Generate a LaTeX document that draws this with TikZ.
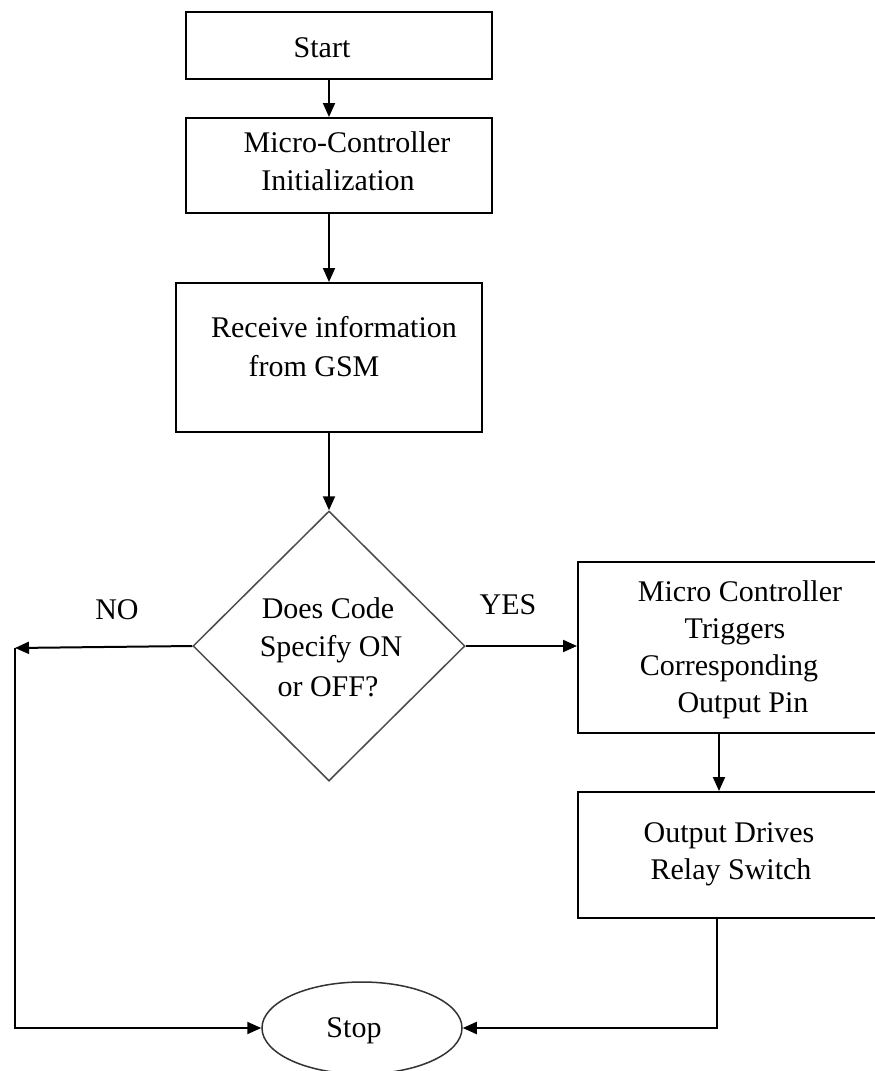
\documentclass[tikz,border=0pt]{standalone}
\usepackage{fontspec}
\setmainfont{Liberation Serif}
\usetikzlibrary{shapes.geometric,arrows.meta}
\begin{document}
\begin{tikzpicture}[x=1pt,y=-1pt,
  box/.style={draw=black,line width=2pt,rectangle,inner sep=0pt},
  txt/.style={anchor=base,inner sep=0pt,font=\fontsize{30}{36}\selectfont},
  arr/.style={line width=2pt,-{Triangle[length=14pt,width=12pt]}},
  ln/.style={line width=2pt}]
\useasboundingbox (0,0) rectangle (875,1071);
\clip (0,0) rectangle (875,1071);
\fill[white] (0,0) rectangle (875,1071);
% boxes
\node[box,minimum width=306pt,minimum height=67pt] (start) at (339,45.5) {};
\node[box,minimum width=306pt,minimum height=95pt] (init) at (339,165.5) {};
\node[box,minimum width=306pt,minimum height=149pt] (recv) at (329,357.5) {};
\node[draw=black!70,line width=1.5pt,diamond,minimum width=272pt,minimum height=270pt,inner sep=0pt] (dec) at (329,646) {};
\node[box,minimum width=302pt,minimum height=171pt] (trig) at (729,647.5) {};
\node[box,minimum width=302pt,minimum height=126pt] (drive) at (729,855) {};
\node[draw=black!80,line width=1.5pt,ellipse,minimum width=200pt,minimum height=92pt,inner sep=0pt] (stop) at (362,1028) {};
\coordinate (nocorner) at (15,648);
% texts
\node[txt] (tstart) at (322,57) {Start};
\node[txt] (tinit1) at (347,152) {Micro-Controller};
\node[txt] (tinit2) at (338,190) {Initialization};
\node[txt] (trecv1) at (334,337) {Receive information};
\node[txt] (trecv2) at (314,376) {from GSM};
\node[txt] (tdec1) at (328,618) {Does Code};
\node[txt] (tdec2) at (331,656) {Specify ON};
\node[txt] (tdec3) at (328,696) {or OFF?};
\node[txt] (ttrig1) at (740,601) {Micro Controller};
\node[txt] (ttrig2) at (735,638) {Triggers};
\node[txt] (ttrig3) at (729,675) {Corresponding};
\node[txt] (ttrig4) at (743,712) {Output Pin};
\node[txt] (tdrive1) at (729,842) {Output Drives};
\node[txt] (tdrive2) at (731,879) {Relay Switch};
\node[txt] (tno) at (117,619) {NO};
\node[txt] (tyes) at (508,614) {YES};
\node[txt] (tstop) at (354,1037) {Stop};
% connectors
\draw[arr] (start.south -| recv.north) -- (init.north -| recv.north);
\draw[arr] (init.south -| recv.north) -- (recv.north);
\draw[arr] (recv.south) -- (dec.north);
\draw[arr] (dec.east) -- (dec.east -| trig.west);
\draw[arr] (dec.west) -- (nocorner);
\draw[arr] (nocorner) |- (stop.west);
\draw[arr] ([xshift=-10pt]trig.south) -- ([xshift=-10pt]drive.north);
\draw[arr] ([xshift=-12pt]drive.south) |- (stop.east);
\end{tikzpicture}
\end{document}
